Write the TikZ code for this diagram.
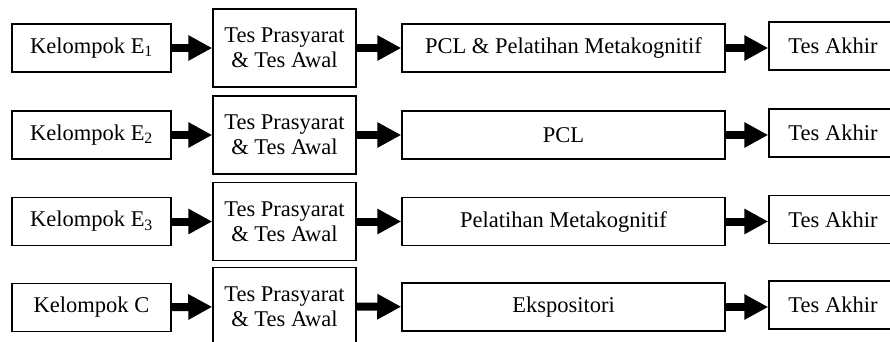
\documentclass[tikz,border=0pt]{standalone}
\usepackage{fontspec}
\setmainfont{Liberation Serif}
\usetikzlibrary{arrows.meta}

\begin{document}
\begin{tikzpicture}[
	x=1pt, y=-1pt,
	box/.style={ draw, line width=1.5pt, inner sep=0pt, align=center, font=\fontsize{22.5}{25}\selectfont },
	grp/.style={ box, minimum width=159pt, minimum height=48pt },
	pre/.style={ box, minimum width=143pt, minimum height=78pt },
	trt/.style={ box, minimum width=323pt, minimum height=48pt },
	fin/.style={ box, minimum width=128pt, minimum height=48pt },
	blk/.style={ line width=8pt, -{Triangle[length=24pt,width=24pt]} }
]

\useasboundingbox (0,0) rectangle (890,341);

\begin{scope}
	\node[grp] at (91.5,48) (g1) {Kelompok E\textsubscript{1}};
	\node[pre] at (284.5,48) (p1) {Tes Prasyarat\\ \& Tes Awal};
	\node[trt] at (563.5,48) (t1) {PCL \& Pelatihan Metakognitif};
	\node[fin] at (833,46) (f1) {Tes Akhir};
	\draw[blk] (g1) to (p1);
	\draw[blk] (p1) to (t1);
	\draw[blk] (t1.east) to (t1.east -| f1.west);
\end{scope}

\begin{scope}
	\node[grp] at (91.5,135) (g2) {Kelompok E\textsubscript{2}};
	\node[pre] at (284.5,135) (p2) {Tes Prasyarat\\ \& Tes Awal};
	\node[trt] at (563.5,135) (t2) {PCL};
	\node[fin] at (833,133) (f2) {Tes Akhir};
	\draw[blk] (g2) to (p2);
	\draw[blk] (p2) to (t2);
	\draw[blk] (t2.east) to (t2.east -| f2.west);
\end{scope}

\begin{scope}
	\node[grp] at (91.5,221.5) (g3) {Kelompok E\textsubscript{3}};
	\node[pre] at (284.5,221.5) (p3) {Tes Prasyarat\\ \& Tes Awal};
	\node[trt] at (563.5,221.5) (t3) {Pelatihan Metakognitif};
	\node[fin] at (833,219.5) (f3) {Tes Akhir};
	\draw[blk] (g3) to (p3);
	\draw[blk] (p3) to (t3);
	\draw[blk] (t3.east) to (t3.east -| f3.west);
\end{scope}

\begin{scope}
	\node[grp] at (91.5,307.5) (g4) {Kelompok C};
	\node[pre] at (284.5,306.5) (p4) {Tes Prasyarat\\ \& Tes Awal};
	\node[trt] at (563.5,307) (t4) {Ekspositori};
	\node[fin] at (833,305) (f4) {Tes Akhir};
	\draw[blk] (g4) to (p4);
	\draw[blk] (p4) to (t4);
	\draw[blk] (t4.east) to (t4.east -| f4.west);
\end{scope}

\end{tikzpicture}
\end{document}
